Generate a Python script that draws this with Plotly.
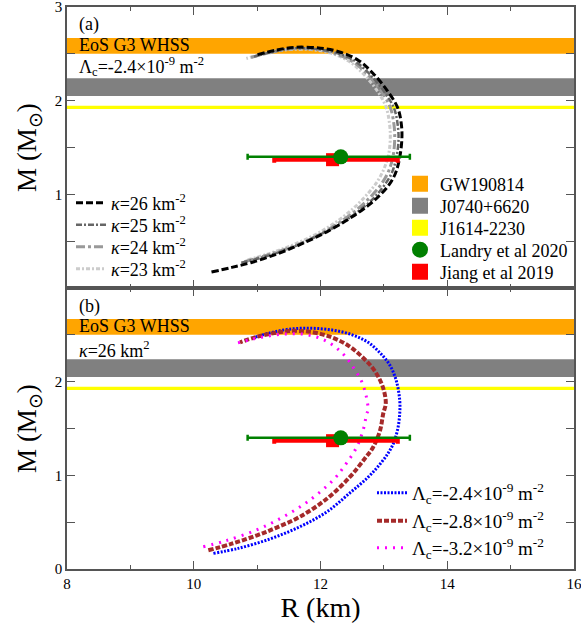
import plotly.graph_objects as go
from plotly.subplots import make_subplots

# ---------------- data ----------------
x_range = [8, 16]
m_range = [0, 3]

band_names = ["GW190814", "J0740+6620", "J1614-2230"]
band_lo = [2.50, 2.05, 1.911]
band_hi = [2.67, 2.24, 1.945]
band_colors = ["#FFA500", "#808080", "#FFFF00"]

obs_names = ["Landry et al 2020", "Jiang et al 2019"]
obs_R = [12.32, 12.19]
obs_M = [1.40, 1.37]
obs_R_lo = [10.85, 11.27]
obs_R_hi = [13.41, 13.22]

# panel (a): Lambda_c = -2.4e-9 m^-2, varying kappa
R_k26 = [10.28, 10.6, 10.9, 11.3, 11.7, 12.1, 12.5, 12.75, 12.92, 13.08, 13.18, 13.24, 13.28, 13.28,
         13.22, 13.05, 12.83, 12.6, 12.3, 12.0, 11.6, 11.3, 11.0]
M_k26 = [0.17, 0.22, 0.27, 0.36, 0.47, 0.60, 0.76, 0.88, 0.98, 1.10, 1.22, 1.36, 1.55, 1.72,
         1.92, 2.11, 2.29, 2.43, 2.52, 2.56, 2.57, 2.54, 2.49]
R_k25 = [10.75, 11.1, 11.5, 11.9, 12.3, 12.6, 12.84, 13.0, 13.12, 13.19, 13.23, 13.22,
         13.16, 13.0, 12.78, 12.55, 12.25, 11.95, 11.6, 11.3, 10.95]
M_k25 = [0.27, 0.33, 0.42, 0.54, 0.68, 0.82, 0.96, 1.09, 1.22, 1.37, 1.56, 1.73,
         1.92, 2.10, 2.28, 2.42, 2.51, 2.55, 2.56, 2.53, 2.47]
R_k24 = [10.8, 11.15, 11.55, 11.95, 12.3, 12.58, 12.8, 12.96, 13.07, 13.14, 13.17, 13.16,
         13.1, 12.95, 12.73, 12.5, 12.2, 11.9, 11.55, 11.25, 10.9]
M_k24 = [0.28, 0.35, 0.44, 0.56, 0.70, 0.84, 0.98, 1.11, 1.24, 1.39, 1.57, 1.74,
         1.93, 2.11, 2.29, 2.42, 2.51, 2.55, 2.555, 2.52, 2.46]
R_k23 = [10.85, 11.2, 11.6, 12.0, 12.3, 12.55, 12.75, 12.9, 13.0, 13.07, 13.1, 13.09,
         13.03, 12.88, 12.67, 12.45, 12.15, 11.85, 11.5, 11.15, 10.83]
M_k23 = [0.30, 0.37, 0.47, 0.60, 0.73, 0.87, 1.01, 1.14, 1.27, 1.41, 1.58, 1.75,
         1.94, 2.12, 2.29, 2.42, 2.51, 2.545, 2.545, 2.51, 2.45]

# panel (b): kappa = 26 km^2, varying Lambda_c
R_l24 = [10.31, 10.7, 11.2, 11.67, 12.1, 12.46, 12.75, 12.94, 13.07, 13.15, 13.22, 13.25, 13.25,
         13.2, 13.1, 12.95, 12.75, 12.5, 12.2, 11.85, 11.5, 11.2, 10.95]
M_l24 = [0.167, 0.22, 0.32, 0.45, 0.61, 0.81, 0.98, 1.12, 1.24, 1.34, 1.50, 1.66, 1.80,
         2.00, 2.17, 2.30, 2.42, 2.50, 2.55, 2.57, 2.56, 2.52, 2.47]
R_l28 = [10.23, 10.6, 11.0, 11.3, 11.67, 12.1, 12.46, 12.7, 12.83, 12.94, 12.99, 13.03,
         12.98, 12.85, 12.68, 12.45, 12.15, 11.8, 11.5, 11.2, 10.95, 10.73]
M_l28 = [0.20, 0.27, 0.36, 0.44, 0.556, 0.75, 0.98, 1.18, 1.30, 1.48, 1.66, 1.77,
         1.95, 2.12, 2.25, 2.38, 2.48, 2.535, 2.54, 2.51, 2.47, 2.42]
R_l32 = [10.15, 10.5, 11.0, 11.41, 11.8, 12.2, 12.4, 12.57, 12.68, 12.73, 12.75,
         12.72, 12.65, 12.52, 12.35, 12.1, 11.8, 11.5, 11.2, 10.9, 10.62]
M_l32 = [0.237, 0.30, 0.42, 0.556, 0.72, 0.95, 1.12, 1.30, 1.50, 1.66, 1.69,
         1.85, 2.00, 2.15, 2.30, 2.43, 2.50, 2.51, 2.49, 2.45, 2.40]

kappa_labels = ["<i>κ</i>=26 km<sup>-2</sup>", "<i>κ</i>=25 km<sup>-2</sup>",
                "<i>κ</i>=24 km<sup>-2</sup>", "<i>κ</i>=23 km<sup>-2</sup>"]
lam_labels = ["Λ<sub>c</sub>=-2.4×10<sup>-9</sup> m<sup>-2</sup>",
              "Λ<sub>c</sub>=-2.8×10<sup>-9</sup> m<sup>-2</sup>",
              "Λ<sub>c</sub>=-3.2×10<sup>-9</sup> m<sup>-2</sup>"]

# ---------------- figure ----------------
FONT = "Liberation Serif, Times New Roman, Times, serif"
W, H = 581, 632
ML, MR, MT, MB = 67, 7, 7, 63
fig = make_subplots(rows=2, cols=1, shared_xaxes=True, vertical_spacing=0)


def py2paper(py):
    return (H - MB - py) / (H - MT - MB)


def px2paper(px):
    return (px - ML) / (W - ML - MR)


legend_layouts = {}
leg_count = [0]


def new_legend(px, py, size):
    leg_count[0] += 1
    key = "legend" if leg_count[0] == 1 else "legend%d" % leg_count[0]
    legend_layouts[key] = dict(x=px2paper(px), y=py2paper(py), xref="paper", yref="paper",
                               xanchor="left", yanchor="middle", bgcolor="rgba(0,0,0,0)",
                               borderwidth=0, itemwidth=30,
                               font=dict(family=FONT, size=size, color="black"))
    return key


for row in (1, 2):
    for name, lo, hi, col in zip(band_names, band_lo, band_hi, band_colors):
        fig.add_trace(go.Scatter(
            x=[x_range[0], x_range[1], x_range[1], x_range[0], x_range[0]],
            y=[lo, lo, hi, hi, lo], fill="toself", fillcolor=col, mode="none",
            line=dict(width=0), showlegend=False, hoverinfo="skip"), row=row, col=1)

# panel (a) curves
k_styles = [dict(color="black", dash="7px,3px", width=3),
            dict(color="#666666", dash="6px,2px,2px,2px", width=2.5),
            dict(color="#999999", dash="9px,3px,3px,3px", width=3),
            dict(color="#cccccc", dash="4px,2px,2px,2px", width=3)]
k_data = [(R_k26, M_k26), (R_k25, M_k25), (R_k24, M_k24), (R_k23, M_k23)]
for (R, M), st in reversed(list(zip(k_data, k_styles))):
    fig.add_trace(go.Scatter(x=R, y=M, mode="lines", line=dict(shape="spline", **st),
                             showlegend=False), row=1, col=1)
k_leg_y = [203, 225, 247, 269]
for st, lab, ly in zip(k_styles, kappa_labels, k_leg_y):
    fig.add_trace(go.Scatter(x=[None], y=[None], mode="lines", line=st, name=lab,
                             legend=new_legend(71, ly, 18)), row=1, col=1)

# panel (b) curves
l_styles = [dict(color="blue", dash="2px,1.5px", width=3),
            dict(color="#A52A2A", dash="5px,2px", width=4),
            dict(color="#FF00FF", dash="2px,6px", width=3)]
l_data = [(R_l24, M_l24), (R_l28, M_l28), (R_l32, M_l32)]
l_leg_y = [493, 521, 548]
for (R, M), st, lab, ly in zip(l_data, l_styles, lam_labels, l_leg_y):
    fig.add_trace(go.Scatter(x=R, y=M, mode="lines", line=dict(shape="spline", **st),
                             name=lab, legend=new_legend(372, ly, 19), showlegend=True),
                  row=2, col=1)

# observational error bars
obs_colors = ["green", "red"]
obs_symbols = ["circle", "square"]
obs_thick = [2.5, 4]
for row in (1, 2):
    for i in (1, 0):
        fig.add_trace(go.Scatter(
            x=[obs_R[i]], y=[obs_M[i]], mode="markers",
            marker=dict(color=obs_colors[i], symbol=obs_symbols[i], size=15 if i == 0 else 13),
            error_x=dict(type="data", symmetric=False, array=[obs_R_hi[i] - obs_R[i]],
                         arrayminus=[obs_R[i] - obs_R_lo[i]], color=obs_colors[i],
                         thickness=obs_thick[i], width=3),
            showlegend=False), row=row, col=1)

# legend entries for bands and observations
b_leg_y = [184, 206, 228]
for name, col, ly in zip(band_names, band_colors, b_leg_y):
    fig.add_trace(go.Scatter(x=[None], y=[None], mode="markers", name=name,
                             marker=dict(symbol="square", size=16, color=col),
                             legend=new_legend(400, ly, 18)), row=1, col=1)
o_leg_y = [250, 272]
for i in range(2):
    fig.add_trace(go.Scatter(x=[None], y=[None], mode="markers", name=obs_names[i],
                             marker=dict(symbol=obs_symbols[i], size=16, color=obs_colors[i]),
                             legend=new_legend(400, o_leg_y[i], 18)), row=1, col=1)

# annotations
ann = [
    (1, 8.15, 2.81, "(a)"), (1, 8.15, 2.59, "EoS G3 WHSS"),
    (1, 8.15, 2.36, "Λ<sub>c</sub>=-2.4×10<sup>-9</sup> m<sup>-2</sup>"),
    (2, 8.15, 2.80, "(b)"), (2, 8.15, 2.59, "EoS G3 WHSS"),
    (2, 8.15, 2.34, "<i>κ</i>=26 km<sup>2</sup>"),
]
for row, xx, yy, t in ann:
    fig.add_annotation(x=xx, y=yy, xref="x" if row == 1 else "x2", yref="y" if row == 1 else "y2",
                       text=t, showarrow=False, xanchor="left", yanchor="middle",
                       font=dict(family=FONT, size=18, color="black"))

axis_common = dict(showline=True, linecolor="#555555", linewidth=1.5, mirror="ticks",
                   ticks="inside", ticklen=8, tickwidth=1.2, tickcolor="#555555",
                   showgrid=False, zeroline=False, automargin=False,
                   ticklabeloverflow="allow",
                   tickfont=dict(family=FONT, size=15, color="black"))

fig.update_xaxes(range=x_range, dtick=2, tick0=8,
                 minor=dict(ticks="inside", ticklen=4, dtick=1, tickcolor="#555555", showgrid=False),
                 **axis_common)
fig.update_xaxes(showticklabels=False, row=1, col=1)
fig.update_xaxes(title=dict(text="R (km)", font=dict(family=FONT, size=28, color="black"), standoff=2),
                 row=2, col=1)
fig.update_yaxes(range=m_range,
                 minor=dict(ticks="inside", ticklen=8, dtick=0.5, tickcolor="#555555", showgrid=False),
                 title=dict(text="M (M<sub>⊙</sub>)", font=dict(family=FONT, size=27, color="black"),
                            standoff=10),
                 **axis_common)
fig.update_yaxes(tickvals=[1, 2, 3], row=1, col=1)
fig.update_yaxes(tickvals=[0, 1, 2], row=2, col=1)

fig.update_layout(
    width=W, height=H,
    margin=dict(l=ML, r=MR, t=MT, b=MB, autoexpand=False),
    paper_bgcolor="white", plot_bgcolor="white",
    font=dict(family=FONT),
    **legend_layouts,
)

fig.write_html("out.html", config={"displayModeBar": False},
               post_script="document.body.style.margin='0px';")
